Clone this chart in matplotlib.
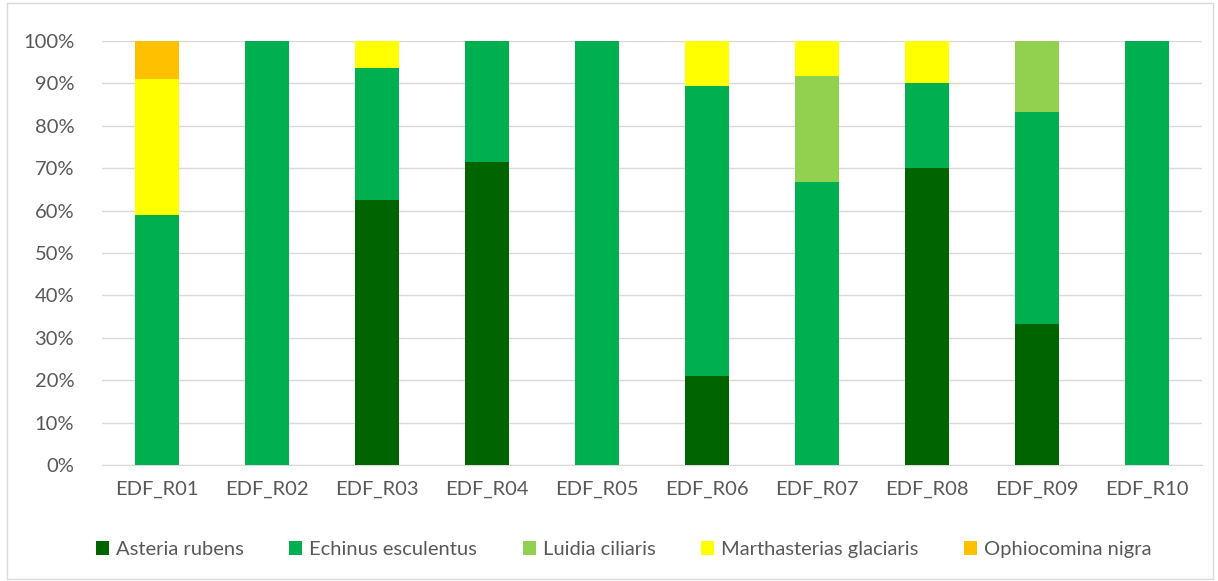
import numpy as np
import matplotlib.pyplot as plt
from matplotlib.patches import Rectangle

plt.rcParams['font.family'] = ['Lato', 'DejaVu Sans']

sites = ['EDF_R01', 'EDF_R02', 'EDF_R03', 'EDF_R04', 'EDF_R05',
         'EDF_R06', 'EDF_R07', 'EDF_R08', 'EDF_R09', 'EDF_R10']
asteria = [0, 0, 62.5, 71.4, 0, 21.0, 0, 70.0, 33.3, 0]
echinus = [59.0, 100, 31.25, 28.6, 100, 68.4, 66.7, 20.0, 50.0, 100]
luidia = [0, 0, 0, 0, 0, 0, 25.0, 0, 16.7, 0]
marthasterias = [32.0, 0, 6.25, 0, 0, 10.6, 8.3, 10.0, 0, 0]
ophiocomina = [9.0, 0, 0, 0, 0, 0, 0, 0, 0, 0]

series = [('Asteria rubens', asteria, '#006400'),
          ('Echinus esculentus', echinus, '#00B050'),
          ('Luidia ciliaris', luidia, '#92D050'),
          ('Marthasterias glaciaris', marthasterias, '#FFFF00'),
          ('Ophiocomina nigra', ophiocomina, '#FFC000')]

fig = plt.figure(figsize=(12.18, 5.81), dpi=100)
ax = fig.add_axes([0.0837, 0.1997, 0.9033, 0.7297])

x = np.arange(len(sites))
bottom = np.zeros(len(sites))
for name, vals, col in series:
    vals = np.array(vals, dtype=float)
    ax.bar(x, vals, 0.4, bottom=bottom, color=col, label=name, zorder=3)
    bottom += vals

ax.set_xlim(-0.5, len(sites) - 0.5)
ax.set_ylim(0, 100)
ax.set_yticks(np.arange(0, 101, 10))
ax.set_yticklabels(['{0}%'.format(v) for v in range(0, 101, 10)])
ax.set_xticks(x)
ax.set_xticklabels(sites)
ax.tick_params(length=0, labelsize=14.5, colors='#595959')
ax.tick_params(axis='y', pad=20)
ax.tick_params(axis='x', pad=11)
ax.grid(axis='y', color='#D9D9D9', linewidth=1, zorder=0)
for s in ['top', 'right', 'left']:
    ax.spines[s].set_visible(False)
ax.spines['bottom'].set_color('#D9D9D9')

leg = fig.legend(loc='center', bbox_to_anchor=(0.512, 0.054), ncol=5, frameon=False,
                 fontsize=14.5, handlelength=0.65, handleheight=0.65,
                 columnspacing=2.25, handletextpad=0.35)
for t in leg.get_texts():
    t.set_color('#595959')

fig.patches.append(Rectangle((0.006, 0.004), 0.99, 0.99, transform=fig.transFigure,
                             fill=False, edgecolor='#D9D9D9', linewidth=1))

fig.savefig('out.png', dpi=100)
